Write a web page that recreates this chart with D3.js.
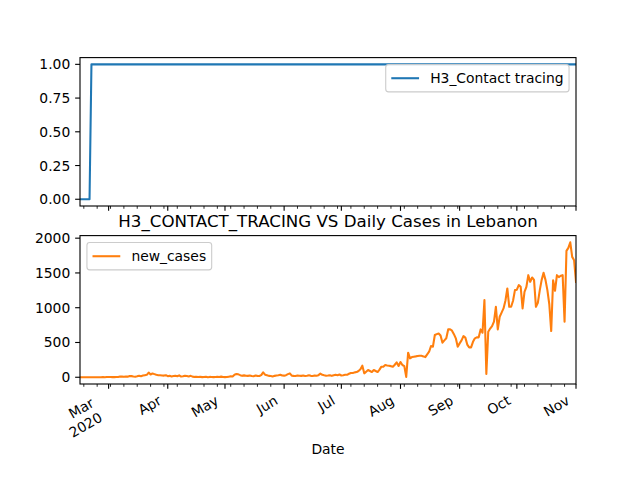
<!DOCTYPE html>
<html><head><meta charset="utf-8">
<script src="https://cdn.jsdelivr.net/npm/d3@7"></script>
<style>body{margin:0;background:#fff}svg{display:block}text{font-family:"DejaVu Sans",sans-serif}</style>
</head><body><svg id="c" width="640" height="480"></svg>
<script>
// ---- data ----
const startDate = "2020-02-15";
const contactDates = ["2020-02-15","2020-02-20","2020-02-21","2020-11-01"];
const contactValues = [0,0,1,1];
const newCases = [
0,0,0,0,0,0,1,0,0,0,1,1,3,0,3,3,3,2,2,3,4,10,9,6,10,9,17,16,11,8,
14,22,16,24,30,35,67,40,55,45,35,30,28,25,24,30,15,20,12,18,21,14,27,10,15,22,18,12,20,9,
5,5,3,6,2,4,8,1,5,3,2,4,6,3,9,4,2,3,8,13,10,36,48,42,30,20,27,22,20,25,
18,15,24,20,18,30,71,37,30,20,18,12,20,25,30,37,25,23,30,45,56,23,20,18,25,22,20,24,19,22,
28,20,18,25,22,30,52,35,28,22,25,30,20,28,35,30,40,25,30,37,35,50,61,60,70,75,90,114,166,56,
80,104,90,75,104,90,75,110,152,150,176,170,166,160,152,180,214,162,219,176,160,5,353,272,290,296,300,305,310,308,
300,290,330,367,449,440,607,620,630,600,497,530,560,688,690,670,620,560,440,487,530,592,570,470,430,430,510,560,574,574,
688,640,1109,47,654,700,736,800,1013,688,870,930,990,1100,1277,1013,1013,1100,1253,1260,1325,1300,990,1228,1300,1468,1372,1435,1400,1013,
1070,1250,1400,1501,1400,1253,1050,664,1396,1243,1468,1440,1460,1468,798,1817,1860,1940,1731,1683,1372
];
const monthTicks = ["2020-03-01","2020-04-01","2020-05-01","2020-06-01","2020-07-01","2020-08-01","2020-09-01","2020-10-01","2020-11-01"];
const monthLabels = [["Mar","2020"],["Apr"],["May"],["Jun"],["Jul"],["Aug"],["Sep"],["Oct"],["Nov"]];
const topYTicks = [0,0.25,0.5,0.75,1.0];
const botYTicks = [0,500,1000,1500,2000];

// ---- layout ----
const fs = 10*100/72;
const L = 80, R = 576;
const ax1 = {top:57.6, bottom:206};
const ax2 = {top:235.6, bottom:384};
const svg = d3.select("#c");
const parse = d3.timeParse("%Y-%m-%d");
const t0 = parse(startDate);
const caseData = newCases.map((v,i)=>({d:d3.timeDay.offset(t0,i), v}));
const contactData = contactDates.map((d,i)=>({d:parse(d), v:contactValues[i]}));

const x = d3.scaleTime().domain([t0, caseData[caseData.length-1].d]).range([L,R]);
const pad = (lo,hi)=>{const r=hi-lo; return [lo-0.05*r, hi+0.05*r];};
const y1 = d3.scaleLinear().domain(pad(0,1)).range([ax1.bottom, ax1.top]);
const cmax = d3.max(newCases), cmin = d3.min(newCases);
const y2 = d3.scaleLinear().domain(pad(cmin,cmax)).range([ax2.bottom, ax2.top]);

const majors = monthTicks.map(parse);
const minors = d3.timeMonday.range(t0, d3.timeDay.offset(x.domain()[1],1))
  .filter(m=>!majors.some(M=>+M===+m));

function drawAxes(ax, y, yt, fmt){
  const g = svg.append("g");
  minors.forEach(m=>{
    g.append("line").attr("x1",x(m)).attr("x2",x(m)).attr("y1",ax.bottom).attr("y2",ax.bottom+2.78)
     .attr("stroke","#000").attr("stroke-width",0.83);
  });
  majors.forEach(m=>{
    g.append("line").attr("x1",x(m)).attr("x2",x(m)).attr("y1",ax.bottom).attr("y2",ax.bottom+4.86)
     .attr("stroke","#000").attr("stroke-width",1.11);
  });
  yt.forEach(v=>{
    g.append("line").attr("x1",L-4.86).attr("x2",L).attr("y1",y(v)).attr("y2",y(v))
     .attr("stroke","#000").attr("stroke-width",1.11);
    g.append("text").attr("x",L-4.86-4.86).attr("y",y(v)+0.36*fs).attr("text-anchor","end")
     .attr("font-size",fs).text(fmt(v));
  });
  return g;
}
function frame(ax){
  svg.append("rect").attr("x",L).attr("y",ax.top).attr("width",R-L).attr("height",ax.bottom-ax.top)
    .attr("fill","none").attr("stroke","#000").attr("stroke-width",1.11);
}

drawAxes(ax1, y1, topYTicks, d3.format(".2f"));
drawAxes(ax2, y2, botYTicks, d3.format("d"));

svg.append("clipPath").attr("id","cl1").append("rect").attr("x",L).attr("y",ax1.top).attr("width",R-L).attr("height",ax1.bottom-ax1.top);
svg.append("clipPath").attr("id","cl2").append("rect").attr("x",L).attr("y",ax2.top).attr("width",R-L).attr("height",ax2.bottom-ax2.top);

svg.append("path").datum(contactData).attr("clip-path","url(#cl1)")
  .attr("d", d3.line().x(d=>x(d.d)).y(d=>y1(d.v)))
  .attr("fill","none").attr("stroke","#1f77b4").attr("stroke-width",2.08).attr("stroke-linejoin","round").attr("stroke-linecap","square");
svg.append("path").datum(caseData).attr("clip-path","url(#cl2)")
  .attr("d", d3.line().x(d=>x(d.d)).y(d=>y2(d.v)))
  .attr("fill","none").attr("stroke","#ff7f0e").attr("stroke-width",2.08).attr("stroke-linejoin","round").attr("stroke-linecap","square");

frame(ax1); frame(ax2);

// x tick labels rotated (matplotlib style: bbox right/top at anchor)
const ang = 30*Math.PI/180;
let maxBottom = 0;
majors.forEach((m,i)=>{
  const lines = monthLabels[i];
  const t = svg.append("text").attr("font-size",fs);
  lines.forEach(l=>t.append("tspan").text(l));
  const w = d3.max(t.selectAll("tspan").nodes(), n=>n.getComputedTextLength());
  const step = 1.2*fs, hl = 0.97*fs;
  const h = hl + (lines.length-1)*step;
  const W = w*Math.cos(ang)+h*Math.sin(ang), H = w*Math.sin(ang)+h*Math.cos(ang);
  const y0 = ax2.bottom + 4.86 + 4.86;
  const dx = -3.8, dy = lines.length>1 ? 3 : 0.5;
  const cx = x(m) - W/2 + dx, cy = y0 + H/2 + dy;
  maxBottom = Math.max(maxBottom, y0+H);
  t.attr("transform",`translate(${cx},${cy}) rotate(-30)`);
  t.selectAll("tspan").attr("x", w/2).attr("text-anchor","end")
    .attr("y",(d,j)=> -h/2 + 0.76*fs + j*step);
});

// x label
svg.append("text").attr("x",(L+R)/2).attr("y",maxBottom+5.56+0.76*fs).attr("text-anchor","middle")
  .attr("font-size",fs).text("Date");

// title
svg.append("text").attr("x",(L+R)/2).attr("y",ax2.top-8.33).attr("text-anchor","middle")
  .attr("font-size",12*100/72).text("H3_CONTACT_TRACING VS Daily Cases in Lebanon");

// legends
function legend(label, color, ax, loc){
  const bp = 0.4*fs, hlen = 2*fs, htp = 0.8*fs, bap = 0.5*fs;
  const g = svg.append("g");
  const box = g.append("rect");
  const tx = g.append("text").attr("font-size",fs).text(label);
  const tw = tx.node().getComputedTextLength();
  const bw = bp + hlen + htp + tw + bp;
  const bh = 2*bp + 0.97*fs + 0.2*fs;
  const bx = loc==="right" ? R - bap - bw : L + bap;
  const by = ax.top + bap;
  box.attr("x",bx).attr("y",by).attr("width",bw).attr("height",bh).attr("rx",2.8)
     .attr("fill","#fff").attr("fill-opacity",0.8).attr("stroke","#cccccc").attr("stroke-width",1.11);
  const cyL = by + bh/2;
  g.append("line").attr("x1",bx+bp).attr("x2",bx+bp+hlen).attr("y1",cyL).attr("y2",cyL)
    .attr("stroke",color).attr("stroke-width",2.08);
  tx.attr("x",bx+bp+hlen+htp).attr("y",cyL+0.36*fs);
}
legend("H3_Contact tracing","#1f77b4",ax1,"right");
legend("new_cases","#ff7f0e",ax2,"left");
</script></body></html>
